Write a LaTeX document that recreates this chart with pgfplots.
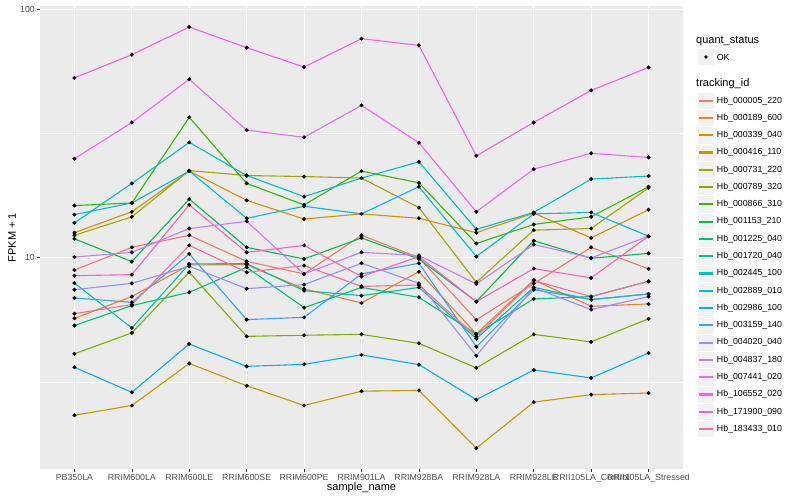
\documentclass[border=0pt]{standalone}
\usepackage{pgfplots}
\pgfplotsset{compat=1.18}
\usepackage{pgfplotstable}
\usepackage{fontspec}
\setmainfont{Liberation Sans}
\definecolor{c1}{HTML}{F8766D}
\definecolor{c2}{HTML}{EA8331}
\definecolor{c3}{HTML}{D89000}
\definecolor{c4}{HTML}{C09B00}
\definecolor{c5}{HTML}{A3A500}
\definecolor{c6}{HTML}{7CAE00}
\definecolor{c7}{HTML}{39B600}
\definecolor{c8}{HTML}{00BB4E}
\definecolor{c9}{HTML}{00BF7D}
\definecolor{c10}{HTML}{00C1A3}
\definecolor{c11}{HTML}{00BFC4}
\definecolor{c12}{HTML}{00BAE0}
\definecolor{c13}{HTML}{00B0F6}
\definecolor{c14}{HTML}{35A2FF}
\definecolor{c15}{HTML}{9590FF}
\definecolor{c16}{HTML}{C77CFF}
\definecolor{c17}{HTML}{E76BF3}
\definecolor{c18}{HTML}{FA62DB}
\definecolor{c19}{HTML}{FF62BC}
\definecolor{c20}{HTML}{FF6C91}
\definecolor{grey20}{HTML}{333333}
\definecolor{grey30}{HTML}{4D4D4D}
\definecolor{panel}{HTML}{EBEBEB}
\definecolor{keybg}{HTML}{F2F2F2}

\pgfplotstableread{
x c1 c2 c3 c4 c5 c6 c7 c8 c9 c10 c11 c12 c13 c14 c15 c16 c17 c18 c19 c20
0 8.91 5.70 12.6 2.32 12.3 4.10 16.2 11.9 5.33 7.90 13.8 14.9 3.62 6.88 7.43 10.05 25.0 52.9 8.46 5.95
1 11.0 6.97 15.3 2.54 14.6 4.98 16.6 9.64 6.41 5.21 19.9 16.6 2.87 6.61 7.88 10.5 35.0 65.6 8.54 6.47
2 12.3 9.35 22.3 3.75 22.4 8.73 36.7 17.2 7.25 9.43 29.1 22.3 4.49 10.35 9.23 13.1 52.2 84.8 16.3 11.2
3 9.66 9.37 17.0 3.05 21.4 4.82 19.9 11.0 9.14 9.46 21.4 14.4 3.65 5.63 7.50 14.0 32.6 70.0 10.5 8.73
4 8.60 7.48 14.3 2.54 21.2 4.87 16.3 9.88 6.29 7.36 17.6 16.1 3.72 5.75 7.79 8.60 30.5 58.5 11.2 9.29
5 12.3 6.57 15.0 2.90 20.9 4.91 22.3 12.0 7.59 7.03 20.9 15.0 4.06 8.60 9.49 10.5 41.0 76.1 8.39 7.66
6 10.0 8.78 14.4 2.92 15.9 4.52 20.0 9.88 6.92 7.59 24.3 19.3 3.71 9.49 7.88 10.2 29.0 71.5 10.1 7.76
7 5.62 4.93 12.6 1.71 7.96 3.60 11.4 6.65 4.93 4.72 13.0 10.1 2.68 4.38 4.03 7.84 15.3 25.7 6.65 4.81
8 7.86 8.13 15.1 2.62 12.9 4.91 13.6 11.7 6.82 7.59 15.2 15.0 3.53 7.43 7.57 11.3 22.7 35.0 9.03 8.08
9 11.0 6.37 12.0 2.81 13.1 4.58 14.6 9.94 6.97 6.78 20.7 15.2 3.28 6.78 6.18 9.97 26.3 47.1 8.29 6.97
10 9.01 6.51 15.6 2.85 19.1 5.67 19.3 10.4 8.03 7.14 21.3 12.2 4.13 7.14 6.97 12.2 25.3 58.3 12.2 8.03
}\data

\begin{document}
\begin{tikzpicture}
\path[use as bounding box] (0,0) rectangle (800bp,500bp);
\begin{axis}[
  at={(40bp,31bp)}, anchor=south west, scale only axis,
  width=643bp, height=463bp,
  ymode=log, ymin=1.41, ymax=103, xmin=-0.6, xmax=10.6,
  xtick={0,...,10},
  xticklabels={PB350LA,RRIM600LA,RRIM600LE,RRIM600SE,RRIM600PE,RRIM901LA,RRIM928BA,RRIM928LA,RRIM928LE,RRII105LA\_Control,RRII105LA\_Stressed},
  ytick={10,100}, yticklabels={10,100},
  minor ytick={3.1623,31.623},
  grid=both,
  major grid style={white, line width=1.07bp},
  minor grid style={white, line width=0.53bp},
  axis background/.style={fill=panel},
  axis line style={draw=none},
  tick align=outside, major tick length=2.75bp, minor tick length=0pt,
  tick style={draw=grey20, line width=0.53bp},
  tick pos=left,
  ticklabel style={font=\fontsize{8.8bp}{10bp}\selectfont, text=grey30, inner sep=0pt},
  xticklabel style={anchor=north, yshift=-2.2bp},
  yticklabel style={anchor=east, xshift=-2.2bp},
  xlabel={sample\_name}, ylabel={FPKM + 1},
  label style={font=\fontsize{11bp}{13bp}\selectfont, inner sep=0pt},
  xlabel style={at={(axis description cs:0.5,-0.041)}, anchor=center},
  ylabel style={at={(axis description cs:-0.0435,0.5)}, anchor=center},
  clip=false,
]
\pgfplotsinvokeforeach{1,...,20}{
  \addplot[c#1, line width=1.1bp] table[x=x, y=c#1]{\data};
}
\pgfplotsinvokeforeach{1,...,20}{
  \addplot[only marks, mark=*, mark size=1.8bp, draw=black, fill=black] table[x=x, y=c#1]{\data};
}
\end{axis}
\begin{scope}[x=1bp,y=1bp]
\node[anchor=west, inner sep=0pt, font=\fontsize{11bp}{13bp}\selectfont] at (696,459.3) {quant\_status};
\filldraw[fill=keybg, draw=white, line width=0.5bp] (697.3,434.4) rectangle (714.6,451.7);
\fill[black] (705.95,443) circle (1.8bp);
\node[anchor=west, inner sep=0pt, font=\fontsize{8.8bp}{10bp}\selectfont] at (716.7,443) {OK};
\node[anchor=west, inner sep=0pt, font=\fontsize{11bp}{13bp}\selectfont] at (696,416) {tracking\_id};
\foreach \i/\lab [count=\k from 0] in {1/Hb\_000005\_220,2/Hb\_000189\_600,3/Hb\_000339\_040,4/Hb\_000416\_110,5/Hb\_000731\_220,6/Hb\_000789\_320,7/Hb\_000866\_310,8/Hb\_001153\_210,9/Hb\_001225\_040,10/Hb\_001720\_040,11/Hb\_002445\_100,12/Hb\_002889\_010,13/Hb\_002986\_100,14/Hb\_003159\_140,15/Hb\_004020\_040,16/Hb\_004837\_180,17/Hb\_007441\_020,18/Hb\_106552\_020,19/Hb\_171900\_090,20/Hb\_183433\_010}{
  \pgfmathsetmacro\yc{399.3-17.28*\k}
  \filldraw[fill=keybg, draw=white, line width=0.5bp] (697.3,\yc-8.64) rectangle (714.6,\yc+8.64);
  \draw[c\i, line width=2.2bp] (699,\yc) -- (712.9,\yc);
  \node[anchor=west, inner sep=0pt, font=\fontsize{8.8bp}{10bp}\selectfont] at (716.7,\yc) {\lab};
}
\end{scope}
\end{tikzpicture}
\end{document}
